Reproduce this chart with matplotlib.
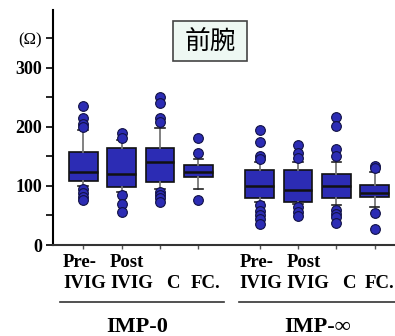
import matplotlib
matplotlib.use("Agg")
import matplotlib.pyplot as plt
import matplotlib.transforms as mtransforms
from matplotlib.lines import Line2D
from matplotlib.patches import Rectangle

# ---- data ----
groups = ["IMP-0", "IMP-∞"]
line1 = ["Pre-", "Post", "", ""]
line2 = ["IVIG", "IVIG", "C", "FC."]
positions = [1, 2, 3, 4, 5.6, 6.6, 7.6, 8.6]
q1 = [108, 98, 106, 115, 79, 73, 79, 81]
med = [124, 120, 140, 124, 100, 93, 100, 88]
q3 = [157, 165, 164, 135, 127, 127, 121, 102]
whislo = [100, 90, 95, 94, 72, 70, 68, 64]
whishi = [195, 178, 198, 145, 140, 140, 140, 124]
fliers = [
    [235, 215, 205, 200, 94, 88, 82, 76],
    [190, 181, 84, 70, 56],
    [250, 241, 215, 208, 90, 85, 79, 73],
    [182, 156, 76],
    [194, 175, 150, 145, 67, 58, 51, 44, 36],
    [169, 155, 147, 65, 56, 49],
    [216, 202, 162, 150, 60, 53, 47, 38],
    [134, 130, 54, 27],
]
yticks = [0, 100, 200, 300, 350]
yticklabels = ["0", "100", "200", "300", "(Ω)"]
title = "前腕"

BLUE = "#2c2cb4"
W, H = 395, 336

fig = plt.figure(figsize=(W / 100, H / 100), dpi=100)
ax = fig.add_axes([53 / W, (H - 245) / H, 1 - 53 / W, (245 - 10) / H])

stats = []
for i in range(len(positions)):
    stats.append(dict(q1=q1[i], med=med[i], q3=q3[i], whislo=whislo[i],
                      whishi=whishi[i], fliers=fliers[i]))

ax.bxp(stats, positions=positions, widths=0.75, patch_artist=True,
       showfliers=True,
       boxprops=dict(facecolor=BLUE, edgecolor="#111111", linewidth=1.2),
       medianprops=dict(color="#111111", linewidth=1.8),
       whiskerprops=dict(color="#777777", linewidth=1.3),
       capprops=dict(color="#222222", linewidth=1.2),
       capwidths=0.25,
       flierprops=dict(marker="o", markerfacecolor=BLUE, markeredgecolor="#111144",
                       markersize=7, markeredgewidth=0.8, linestyle="none"))

ax.set_xlim(0.21, 9.13)
ax.set_ylim(0, 398)
for s in ["top", "right"]:
    ax.spines[s].set_visible(False)
ax.spines["left"].set_linewidth(1.5)
ax.spines["bottom"].set_linewidth(1.5)
ax.spines["bottom"].set_color("#333333")

ax.set_yticks(range(0, 351, 50))
labs = []
for v in range(0, 351, 50):
    labs.append(yticklabels[yticks.index(v)] if v in yticks else "")
ax.set_yticklabels(labs)
for t in ax.get_yticklabels():
    t.set_fontfamily("Liberation Serif")
    if t.get_text() == "(Ω)":
        t.set_fontsize(12)
    else:
        t.set_fontweight("bold")
        t.set_fontsize(13)
ax.tick_params(axis="y", length=5, width=1.2, pad=3)
ax.set_xticks(positions)
ax.set_xticklabels([""] * len(positions))
ax.tick_params(axis="x", length=3, width=1.0, color="#555555")

# category labels
trans = mtransforms.blended_transform_factory(ax.transData, fig.transFigure)
offsets = [-0.53, -0.3, 0.16, -0.2]
lab_font = dict(family="Liberation Serif", fontweight="bold", fontsize=13.5)
for i, p in enumerate(positions):
    k = i % 4
    x = p + offsets[k]
    if i == len(positions) - 1:
        x -= 0.05
    if line1[k]:
        ax.text(x, (H - 267) / H, line1[k], transform=trans, ha="left",
                va="baseline", **lab_font)
    ax.text(x, (H - 288) / H, line2[k], transform=trans, ha="left",
            va="baseline", **lab_font)

# group lines and labels
grp_spans = [(0.39, 4.68), (5.06, 9.2)]
for gi, (a, b) in enumerate(grp_spans):
    fig.add_artist(Line2D([a, b], [(H - 302) / H] * 2, transform=trans,
                          color="#333333", linewidth=1.2, clip_on=False))
    c = sum(positions[gi * 4:(gi + 1) * 4]) / 4
    ax.text(c - (0.1 if gi == 0 else 0.0), (H - 332) / H, groups[gi],
            transform=trans, ha="center", va="baseline",
            family="Liberation Serif", fontweight="bold", fontsize=16)

# title box
fig.add_artist(Rectangle((173 / W, 1 - 61 / H), 74 / W, 40 / H,
                         transform=fig.transFigure, facecolor="#eef8f3",
                         edgecolor="#444444", linewidth=1.2))
fig.text(210 / W, 1 - 42 / H, title, ha="center", va="center",
         family=["Noto Sans CJK JP", "DejaVu Sans"], fontsize=18.5)

fig.savefig("out.png", dpi=100)
